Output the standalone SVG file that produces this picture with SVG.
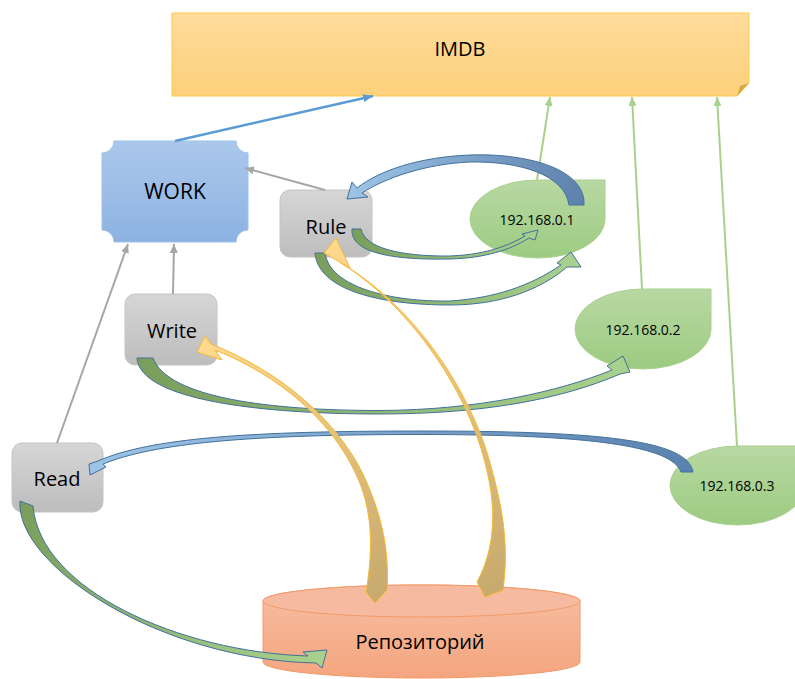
<svg xmlns="http://www.w3.org/2000/svg" width="795" height="679" viewBox="0 0 795 679">
<defs>
<style>
text{font-family:"Open Sans","Noto Sans","Liberation Sans",sans-serif;fill:#000;text-anchor:middle;dominant-baseline:central}
.lbl{font-size:20px}
.ip{font-size:14px}
.box{fill:url(#gGray);stroke:#c4c4c4;stroke-width:1}
.ipn{fill:url(#gIp);stroke:#a9d18e;stroke-width:1}
.lg{stroke:#a6a6a6;stroke-width:2;fill:none;marker-end:url(#mGray)}
.lgr{stroke:#a9d18e;stroke-width:2;fill:none;marker-end:url(#mGreen)}
.lb{stroke:#5b9bd5;stroke-width:2.5;fill:none;marker-end:url(#mBlue)}
.cb{stroke:#41719c;stroke-width:1}
.cy{stroke:#f5b935;stroke-width:1}
</style>
<linearGradient id="gImdb" x1="0" y1="0" x2="0" y2="1"><stop offset="0" stop-color="#fedc9b"/><stop offset="1" stop-color="#fdd07b"/></linearGradient>
<linearGradient id="gWork" x1="0" y1="0" x2="0" y2="1"><stop offset="0" stop-color="#abc8eb"/><stop offset="1" stop-color="#8db2e2"/></linearGradient>
<linearGradient id="gGray" x1="0" y1="0" x2="0" y2="1"><stop offset="0" stop-color="#d6d6d6"/><stop offset="1" stop-color="#bdbdbd"/></linearGradient>
<linearGradient id="gIp" x1="0" y1="0" x2="0" y2="1"><stop offset="0" stop-color="#b8d8a3"/><stop offset="1" stop-color="#9dcb81"/></linearGradient>
<linearGradient id="gRepo" x1="0" y1="0" x2="0" y2="1"><stop offset="0" stop-color="#f7bfa3"/><stop offset="1" stop-color="#f4a57f"/></linearGradient>
<linearGradient id="a1" gradientUnits="userSpaceOnUse" x1="585" y1="205" x2="350" y2="195"><stop offset="0" stop-color="#5d81ab"/><stop offset="1" stop-color="#9dc3e6"/></linearGradient>
<linearGradient id="a5" gradientUnits="userSpaceOnUse" x1="690" y1="470" x2="90" y2="470"><stop offset="0" stop-color="#5a82ae"/><stop offset="1" stop-color="#9dc3e6"/></linearGradient>
<linearGradient id="a2" gradientUnits="userSpaceOnUse" x1="356" y1="230" x2="537" y2="232"><stop offset="0" stop-color="#7a9e5c"/><stop offset="1" stop-color="#a9d18e"/></linearGradient>
<linearGradient id="a3" gradientUnits="userSpaceOnUse" x1="320" y1="253" x2="571" y2="255"><stop offset="0" stop-color="#7a9e5c"/><stop offset="1" stop-color="#a9d18e"/></linearGradient>
<linearGradient id="a4" gradientUnits="userSpaceOnUse" x1="145" y1="358" x2="624" y2="360"><stop offset="0" stop-color="#7a9e5c"/><stop offset="1" stop-color="#a9d18e"/></linearGradient>
<linearGradient id="a6" gradientUnits="userSpaceOnUse" x1="25" y1="501" x2="327" y2="655"><stop offset="0" stop-color="#7a9e5c"/><stop offset="1" stop-color="#a9d18e"/></linearGradient>
<linearGradient id="a7" gradientUnits="userSpaceOnUse" x1="377" y1="597" x2="197" y2="350"><stop offset="0" stop-color="#c8aa6e"/><stop offset="1" stop-color="#ffd98e"/></linearGradient>
<linearGradient id="a8" gradientUnits="userSpaceOnUse" x1="490" y1="592" x2="336" y2="238"><stop offset="0" stop-color="#c8aa6e"/><stop offset="1" stop-color="#ffd98e"/></linearGradient>
<marker id="mGray" markerUnits="userSpaceOnUse" markerWidth="9" markerHeight="8" viewBox="0 0 9 8" refX="9" refY="4" orient="auto"><path d="M0,0 L9,4 L0,8 Z" fill="#a6a6a6"/></marker>
<marker id="mGreen" markerUnits="userSpaceOnUse" markerWidth="9" markerHeight="8" viewBox="0 0 9 8" refX="9" refY="4" orient="auto"><path d="M0,0 L9,4 L0,8 Z" fill="#a9d18e"/></marker>
<marker id="mBlue" markerUnits="userSpaceOnUse" markerWidth="10" markerHeight="8" viewBox="0 0 10 8" refX="10" refY="4" orient="auto"><path d="M0,0 L10,4 L0,8 Z" fill="#5b9bd5"/></marker>
</defs>
<rect width="795" height="679" fill="#ffffff"/>

<g id="imdb">
<path d="M172,13 L749,13 L749,83 L737,96 L172,96 Z" fill="url(#gImdb)" stroke="#fcc84a" stroke-width="1"/>
<path d="M737,96 L740,86 L749,83 Z" fill="#d6a943"/>
<text class="lbl" x="460" y="48">IMDB</text>
</g>

<g id="work">
<path d="M114,141 L236,141 A12,12 0 0 0 248,153 L248,230 A12,12 0 0 0 236,242 L114,242 A12,12 0 0 0 102,230 L102,153 A12,12 0 0 0 114,141 Z" fill="url(#gWork)" stroke="#9dc3e6" stroke-width="1"/>
<text class="lbl" x="175" y="191" style="font-size:21px">WORK</text>
</g>

<g id="rule">
<rect class="box" x="280" y="190" width="92" height="67" rx="10"/>
<text class="lbl" x="326" y="226">Rule</text>
</g>

<g id="write">
<rect class="box" x="125" y="294" width="92" height="71" rx="10"/>
<text class="lbl" x="172" y="330">Write</text>
</g>

<g id="read">
<rect class="box" x="12" y="443" width="91" height="69" rx="10"/>
<text class="lbl" x="57" y="478">Read</text>
</g>

<g id="ip1">
<path class="ipn" d="M537.5,180 L605,180 L605,219 A67.5,39 0 0 1 537.5,258 A67.5,39 0 0 1 470,219 A67.5,39 0 0 1 537.5,180 Z"/>
<text class="ip" x="537" y="219">192.168.0.1</text>
</g>

<g id="ip2">
<path class="ipn" d="M643,289 L711,289 L711,329 A68,40 0 0 1 643,369 A68,40 0 0 1 575,329 A68,40 0 0 1 643,289 Z"/>
<text class="ip" x="643" y="329">192.168.0.2</text>
</g>

<g id="ip3">
<path class="ipn" d="M737.5,446 L805,446 L805,485.5 A67.5,39.5 0 0 1 737.5,525 A67.5,39.5 0 0 1 670,485.5 A67.5,39.5 0 0 1 737.5,446 Z"/>
<text class="ip" x="737" y="485">192.168.0.3</text>
</g>

<g id="repo">
<path d="M263,601 A158.5,16 0 0 1 580,601 L580,662 A158.5,16 0 0 1 263,662 Z" fill="url(#gRepo)" stroke="#f29a69" stroke-width="1"/>
<ellipse cx="421.5" cy="601" rx="158.5" ry="16" fill="#f6baa0" stroke="#f29a69" stroke-width="1"/>
<text class="lbl" x="420" y="641">Репозиторий</text>
</g>

<g id="connectors">
<line class="lb" x1="175" y1="141" x2="373" y2="96"/>
<line class="lg" x1="325" y1="190" x2="245" y2="168"/>
<line class="lg" x1="173" y1="294" x2="174" y2="244"/>
<line class="lg" x1="57" y1="443" x2="128" y2="244"/>
<line class="lgr" x1="537" y1="180" x2="550" y2="97"/>
<line class="lgr" x1="642" y1="289" x2="632" y2="97"/>
<line class="lgr" x1="737" y1="446" x2="717" y2="97"/>

<path class="cb" fill="url(#a1)" d="M584,205 C586,170 530,153 470,155 C420,157 380,170 357,188 L352,182 L347,199 L368,197 L362,193 C385,178 425,164 470,162 C520,161 565,175 569,205 Z"/>
<path class="cb" fill="url(#a2)" d="M352,229 C350,255 400,260 450,259 C485,258 510,250 529,238 L535,240 L538,230 L522,234 L525,236 C505,248 480,255 450,256 C400,256.5 365,248 361,229 Z"/>
<path class="cb" fill="url(#a3)" d="M315,253 C318,290 380,305 450,305 C500,305 540,290 567,267 L581,267 L571,252 L557,263 L561,265 C530,286 495,298 450,301 C390,302 330,287 325,253 Z"/>
<path class="cb" fill="url(#a4)" d="M137,358 C140,400 260,414 380,414 C480,414 560,400 620,374 L630,372 L623,356 L607,366 L612,370 C560,391 480,410 380,410.5 C270,410.5 168,398 153,358 Z"/>
<path class="cb" fill="url(#a5)" d="M693,472 C688,440 600,431 420,431 C250,431 150,438 98,461 L89,464 L90,475 L106,467 L103,464 C155,443 250,434.5 420,434.5 C590,434.5 672,446 681,472 Z"/>
<path class="cb" fill="url(#a6)" d="M20,501 C15,565 160,660 316,663 L322,668 L327,650 L303,652 L308,656 C180,652 40,590 33,506 Z"/>
<path class="cy" fill="url(#a7)" d="M387,590 C390,545 379,507 361,470 C335,420 282,372 211,344 L205,336 L197,352 L222,360 L215,350 C280,376 330,420 355,472 C372,507 374,545 366,592 L375,603 Z"/>
<path class="cy" fill="url(#a8)" d="M503,590 C510,540 500,500 492,470 C475,400 420,310 341,263 L350,268 L336,238 L324,253 L336,260 C415,307 472,400 487,471 C495,505 497,545 477,582 L485,597 Z"/>
</g>
</svg>
